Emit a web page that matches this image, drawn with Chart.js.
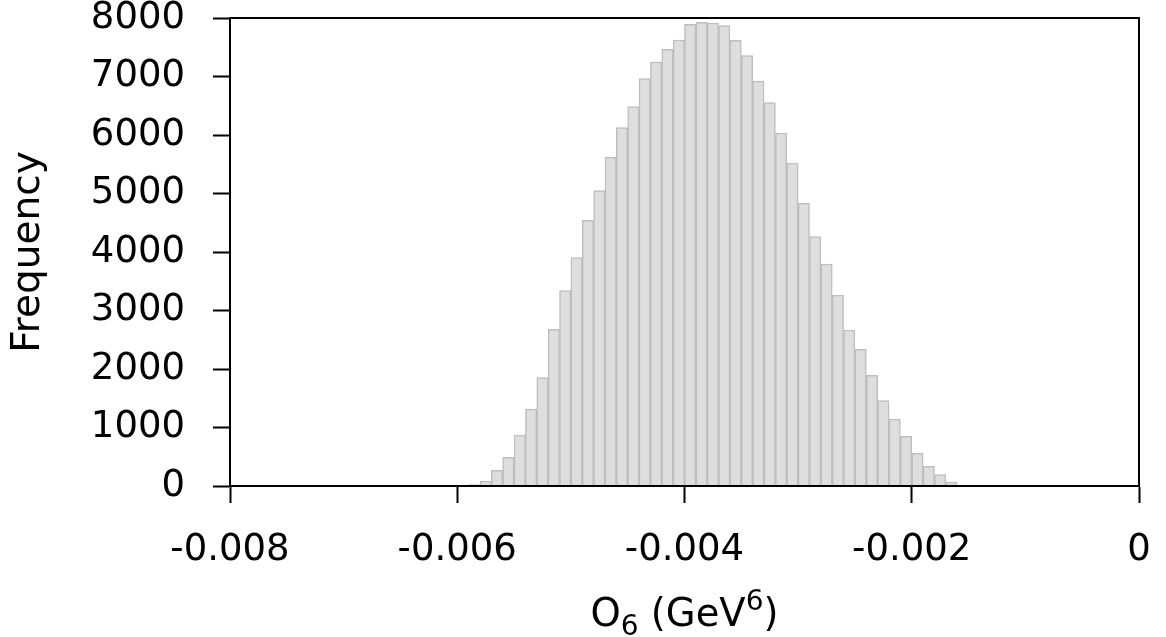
<!DOCTYPE html>
<html>
<head>
<meta charset="utf-8">
<script src="https://cdn.jsdelivr.net/npm/chart.js@4"></script>
<style>
  html, body { margin: 0; padding: 0; background: #fff; }
  #wrap { width: 1166px; height: 637px; }
</style>
</head>
<body>
<div id="wrap"><canvas id="myChart" width="1166" height="637"></canvas></div>
<script>
// histogram bins (centres, width 0.0001) and counts
const binCenters = [
  -0.00595, -0.00585, -0.00575, -0.00565, -0.00555, -0.00545, -0.00535, -0.00525, -0.00515,
  -0.00505, -0.00495, -0.00485, -0.00475, -0.00465, -0.00455, -0.00445, -0.00435, -0.00425,
  -0.00415, -0.00405, -0.00395, -0.00385, -0.00375, -0.00365, -0.00355, -0.00345, -0.00335,
  -0.00325, -0.00315, -0.00305, -0.00295, -0.00285, -0.00275, -0.00265, -0.00255, -0.00245,
  -0.00235, -0.00225, -0.00215, -0.00205, -0.00195, -0.00185, -0.00175, -0.00165, -0.00155
];
const counts = [
  5, 25, 85, 270, 490, 870, 1315, 1855, 2680,
  3340, 3905, 4540, 5050, 5620, 6128, 6484, 6963, 7248,
  7465, 7624, 7892, 7926, 7915, 7869, 7618, 7356, 6920,
  6556, 6034, 5521, 4832, 4262, 3795, 3262, 2667, 2336,
  1892, 1459, 1145, 849, 559, 336, 194, 68, 12
];
const xTicks = [-0.008, -0.006, -0.004, -0.002, 0];
const yTicks = [0, 1000, 2000, 3000, 4000, 5000, 6000, 7000, 8000];

const FONT = 'DejaVu Sans';
const SIZE = 37;
const TITLE_SIZE = 38.5;

// box round the plot and the x title with sub/superscript
const framePlugin = {
    id: 'frame',
    afterDatasetsDraw(chart) {
        const { ctx, chartArea: a } = chart;
        ctx.save();
        ctx.strokeStyle = '#000';
        ctx.lineWidth = 2;
        ctx.strokeRect(a.left, a.top, a.right - a.left, a.bottom - a.top);
        ctx.restore();
    },
    afterDraw(chart) {
        const { ctx, chartArea: a } = chart;
        const small = Math.round(TITLE_SIZE * 0.72);
        const parts = [
            { t: 'O', s: TITLE_SIZE, dy: 0 },
            { t: '6', s: small, dy: 9 },
            { t: ' (GeV', s: TITLE_SIZE, dy: 0 },
            { t: '6', s: small, dy: -16 },
            { t: ')', s: TITLE_SIZE, dy: 0 }
        ];
        ctx.save();
        ctx.fillStyle = '#000';
        ctx.textBaseline = 'alphabetic';
        let total = 0;
        parts.forEach(p => {
            ctx.font = p.s + 'px "' + FONT + '"';
            total += ctx.measureText(p.t).width;
        });
        let x = (a.left + a.right) / 2 - total / 2;
        const y = 626;
        parts.forEach(p => {
            ctx.font = p.s + 'px "' + FONT + '"';
            ctx.fillText(p.t, x, y + p.dy);
            x += ctx.measureText(p.t).width;
        });
        ctx.restore();
    }
};

const ctx = document.getElementById('myChart').getContext('2d');
new Chart(ctx, {
    type: 'bar',
    data: {
        datasets: [{
            label: 'Frequency',
            data: binCenters.map((c, i) => ({ x: c, y: counts[i] })),
            backgroundColor: '#dedede',
            borderColor: '#bebebe',
            borderWidth: 1.5,
            barPercentage: 1.0,
            categoryPercentage: 1.0
        }]
    },
    options: {
        responsive: false,
        animation: false,
        devicePixelRatio: 1,
        layout: { padding: { top: 18, right: 27, left: 0, bottom: 0 } },
        plugins: { legend: { display: false }, tooltip: { enabled: false } },
        scales: {
            x: {
                type: 'linear',
                min: -0.008,
                max: 0,
                offset: false,
                afterFit: s => {
                    s.height = 151;
                    s.paddingLeft = 0;
                    s.paddingRight = 0;
                },
                afterBuildTicks: s => { s.ticks = xTicks.map(v => ({ value: v })); },
                grid: { offset: false, drawOnChartArea: false, drawTicks: true, tickLength: 17, tickWidth: 2, color: '#000' },
                border: { display: true, color: '#000', width: 2 },
                ticks: {
                    color: '#000',
                    padding: 25,
                    maxRotation: 0,
                    autoSkip: false,
                    font: { family: FONT, size: SIZE },
                    callback: v => Math.abs(v) < 1e-9 ? '0' : v.toFixed(3)
                }
            },
            y: {
                min: 0,
                max: 8000,
                afterFit: s => {
                    s.width = 230;
                    s.paddingTop = 0;
                    s.paddingBottom = 0;
                },
                afterBuildTicks: s => { s.ticks = yTicks.map(v => ({ value: v })); },
                grid: { drawOnChartArea: false, drawTicks: true, tickLength: 17, tickWidth: 2, color: '#000' },
                border: { display: true, color: '#000', width: 2 },
                title: {
                    display: true,
                    text: 'Frequency',
                    color: '#000',
                    padding: { top: 5, bottom: 0 },
                    font: { family: FONT, size: 39 }
                },
                ticks: {
                    color: '#000',
                    padding: 28,
                    autoSkip: false,
                    font: { family: FONT, size: SIZE },
                    callback: v => String(v)
                }
            }
        }
    },
    plugins: [framePlugin]
});
</script>
</body>
</html>
